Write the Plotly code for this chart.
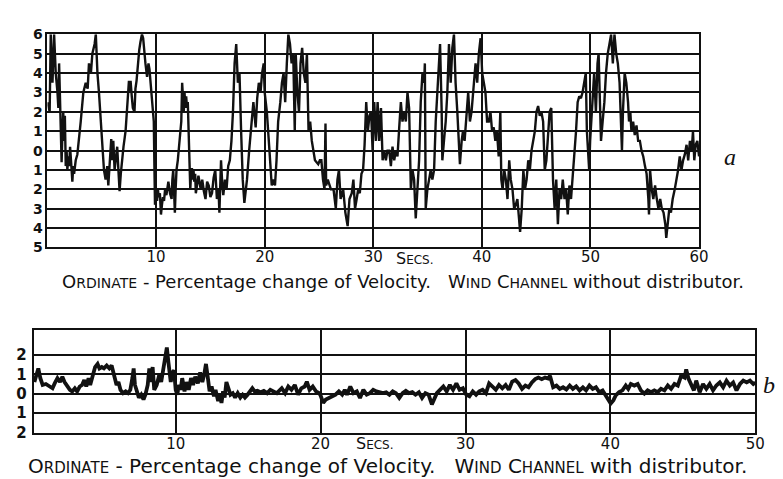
import plotly.graph_objects as go

# ---------- Panel a : wind channel without distributor (0-60 s) ----------
t_a = [0.0, 0.2, 0.3, 0.46, 0.61, 0.76, 0.92, 1.0, 1.07, 1.15, 1.22, 1.3, 1.38, 1.45, 1.53, 1.6, 1.68, 1.76, 1.83, 1.92,
       2.0, 2.08, 2.2, 2.29, 2.37, 2.45, 2.6, 2.75, 3.06, 3.3, 3.52, 3.7, 3.82, 4.0, 4.13, 4.34, 4.45, 4.52, 4.6, 4.74,
       4.89, 5.05, 5.2, 5.35, 5.5, 5.6, 5.66, 5.78, 5.87, 5.95, 6.06, 6.18, 6.3, 6.42, 6.53, 6.64, 6.75, 6.88, 7.0, 7.19,
       7.3, 7.4, 7.5, 7.6, 7.65, 7.76, 7.86, 8.01, 8.1, 8.2, 8.32, 8.45, 8.56, 8.7, 8.81, 8.92, 9.02, 9.17, 9.3, 9.39,
       9.54, 9.62, 9.7, 9.79, 9.85, 9.9, 10.0, 10.09, 10.17, 10.24, 10.35, 10.45, 10.54, 10.63, 10.73, 10.83, 10.95, 11.13, 11.28, 11.43,
       11.5, 11.58, 11.65, 11.73, 11.8, 11.88, 12.0, 12.17, 12.32, 12.4, 12.47, 12.55, 12.62, 12.7, 12.77, 12.85, 12.92, 13.0, 13.07, 13.15,
       13.22, 13.3, 13.37, 13.45, 13.51, 13.6, 13.66, 13.8, 13.9, 14.11, 14.25, 14.4, 14.55, 14.7, 14.85, 15.0, 15.15, 15.3, 15.45, 15.6,
       15.75, 15.83, 15.9, 15.98, 16.1, 16.19, 16.34, 16.49, 16.64, 16.79, 16.94, 17.08, 17.23, 17.38, 17.53, 17.68, 17.83, 17.98, 18.13, 18.37,
       18.57, 18.78, 18.96, 19.17, 19.31, 19.46, 19.62, 19.76, 19.91, 20.0, 20.2, 20.44, 20.65, 20.8, 20.95, 21.09, 21.24, 21.44, 21.59, 21.74,
       21.89, 22.04, 22.18, 22.33, 22.48, 22.63, 22.77, 22.86, 23.01, 23.16, 23.3, 23.45, 23.6, 23.75, 23.89, 24.04, 24.19, 24.34, 24.49, 24.63,
       24.78, 24.93, 25.08, 25.22, 25.37, 25.51, 25.6, 25.66, 25.81, 25.96, 26.1, 26.34, 26.55, 26.7, 26.84, 26.99, 27.23, 27.43, 27.64, 27.81,
       28.02, 28.17, 28.32, 28.47, 28.61, 28.76, 28.91, 29.06, 29.2, 29.35, 29.5, 29.65, 29.8, 29.94, 30.09, 30.25, 30.4, 30.55, 30.71, 30.86,
       31.01, 31.16, 31.31, 31.47, 31.62, 31.77, 31.93, 32.08, 32.23, 32.39, 32.54, 32.69, 32.84, 33.0, 33.15, 33.3, 33.46, 33.61, 33.76, 33.91,
       34.07, 34.22, 34.37, 34.53, 34.68, 34.75, 34.83, 34.98, 35.14, 35.29, 35.44, 35.6, 35.75, 35.9, 36.06, 36.15, 36.3, 36.36, 36.51, 36.67,
       36.82, 36.97, 37.13, 37.28, 37.43, 37.58, 37.74, 37.89, 37.98, 38.14, 38.26, 38.41, 38.56, 38.74, 38.9, 39.05, 39.27, 39.42, 39.57, 39.72,
       39.88, 40.03, 40.18, 40.33, 40.48, 40.64, 40.79, 40.94, 41.09, 41.24, 41.39, 41.55, 41.7, 41.79, 41.91, 42.06, 42.21, 42.36, 42.52, 42.66,
       42.82, 42.97, 43.12, 43.27, 43.42, 43.52, 43.67, 43.82, 43.97, 44.12, 44.27, 44.42, 44.57, 44.73, 44.88, 45.03, 45.18, 45.33, 45.48, 45.64,
       45.79, 45.94, 46.09, 46.24, 46.39, 46.55, 46.7, 46.85, 47.0, 47.15, 47.3, 47.45, 47.61, 47.76, 47.91, 48.06, 48.21, 48.36, 48.5, 48.67,
       48.82, 48.97, 49.12, 49.27, 49.42, 49.57, 49.67, 49.79, 49.88, 49.97, 50.09, 50.22, 50.34, 50.5, 50.65, 50.75, 50.87, 50.97, 51.12, 51.28,
       51.43, 51.59, 51.75, 51.9, 52.06, 52.21, 52.37, 52.52, 52.68, 52.77, 52.9, 52.99, 53.15, 53.3, 53.46, 53.55, 53.67, 53.77, 53.93, 54.08,
       54.24, 54.39, 54.55, 54.7, 54.86, 55.02, 55.17, 55.33, 55.39, 55.49, 55.64, 55.79, 55.95, 56.11, 56.26, 56.42, 56.57, 56.73, 56.89, 56.98,
       57.1, 57.26, 57.41, 57.57, 57.76, 57.92, 58.07, 58.22, 58.38, 58.53, 58.69, 58.85, 59.0, 59.16, 59.32, 59.44, 59.56, 59.69, 59.84, 60.0]
v_a = [2.5, 2.0, 6.0, 3.5, 6.0, 4.0, 3.0, 2.2, 4.5, 3.0, 1.5, -0.6, 1.0, 2.0, 0.5, 1.8, -0.8, 0.0, -1.0, -0.3,
       -0.8, 0.2, -0.8, -1.6, -0.8, -1.2, -0.5, -0.2, 1.5, 3.0, 3.5, 3.2, 4.5, 4.0, 5.0, 5.5, 6.0, 5.0, 4.0, 3.0,
       1.5, 0.0, -1.0, -1.5, -0.8, -1.8, -1.2, -0.5, 0.6, -0.5, 0.5, -1.0, -0.2, 0.2, -1.0, -2.1, -1.2, -0.4, 0.2, 1.0,
       2.0, 2.8, 3.6, 3.0, 3.6, 2.8, 2.2, 2.0, 3.2, 3.6, 4.5, 5.2, 5.6, 6.0, 5.8, 5.0, 4.5, 3.8, 4.5, 4.2,
       3.0, 2.4, 2.0, 1.5, -1.0, -2.8, -2.2, -2.6, -2.0, -2.4, -2.2, -3.3, -2.8, -2.4, -2.6, -2.0, -2.3, -1.6, -2.2, -2.5,
       -1.5, -1.0, -2.0, -3.2, -2.0, -1.0, -0.5, 0.5, 1.5, 3.5, 2.8, 2.0, 3.0, 2.2, 2.8, 2.2, 2.5, 1.0, -1.0, -2.0,
       -1.2, -0.9, -1.5, -1.0, -1.6, -1.2, -2.2, -1.5, -1.3, -2.0, -1.5, -2.1, -2.5, -1.6, -1.8, -2.4, -2.2, -1.4, -1.0, -2.5,
       -2.0, -3.2, -1.5, -0.5, -1.8, -2.3, -1.5, -2.0, -0.8, -0.5, 0.5, 2.0, 4.5, 5.5, 3.5, 4.0, 1.0, -1.5, -2.7, -1.5,
       0.0, 1.5, 2.5, 1.2, 2.7, 3.5, 3.0, 4.0, 4.5, 3.0, 2.0, 0.0, -1.8, -1.5, -1.8, -0.5, 1.5, 2.5, 3.5, 4.0,
       2.5, 4.5, 6.0, 5.5, 4.5, 5.0, 1.0, 5.0, 3.0, 2.0, 4.5, 5.3, 4.0, 3.5, 5.0, 1.0, 1.5, 0.5, 0.0, -0.5,
       -0.6, -0.7, -0.5, -0.5, -1.5, -2.0, 1.4, -1.8, -1.5, -1.8, -2.0, -2.0, -3.0, -1.5, -1.0, -2.5, -2.0, -3.2, -3.9, -2.5,
       -2.2, -1.5, -3.0, -2.5, -2.0, -2.2, -1.2, -1.0, 0.3, 2.5, 1.0, 1.8, 2.0, 0.0, 2.5, 0.5, 2.5, 0.5, 2.2, -0.5,
       0.0, -0.5, 0.0, 0.0, -0.8, 0.2, -0.5, 0.0, -0.3, 1.2, 2.5, 1.5, 2.0, 1.5, 3.0, 2.2, -2.0, -1.0, -1.5, -3.5,
       -2.0, -0.5, 2.5, 4.0, 3.5, 4.5, -3.0, -2.0, -1.5, -1.0, -1.5, -1.0, 1.5, 3.0, 5.0, 5.5, 2.0, -0.5, 0.5, 1.5,
       3.0, 5.5, 3.5, 5.3, 6.0, 3.5, 2.0, 0.0, -0.7, 0.5, 1.0, 0.5, 1.5, 3.0, 1.5, 2.0, 3.5, 4.5, 3.5, 5.0,
       5.8, 4.0, 3.5, 3.0, 1.5, 1.5, 2.0, 1.0, 1.2, 0.5, 1.0, -0.3, 2.0, -1.5, -2.0, -1.0, -1.5, -2.5, -0.5, -1.5,
       -2.0, -3.0, -2.8, -2.5, -3.5, -4.2, -3.0, -1.0, -2.0, -1.5, -0.5, -1.0, 0.0, 0.5, 1.0, 2.0, 2.3, 1.8, 2.0, 1.5,
       -1.0, -0.5, 1.0, 2.0, 2.2, -1.5, -3.0, -1.5, -3.8, -2.0, -2.5, -1.5, -2.5, -2.0, -3.3, -1.8, -2.5, -1.5, -0.5, 1.0,
       2.5, 2.8, 2.7, 3.0, 3.5, 4.0, 1.0, -0.5, -1.0, 0.5, 1.5, 2.5, 4.0, 2.0, 4.5, 5.0, 2.0, 0.5, 1.5, 2.5,
       4.0, 5.0, 5.5, 6.0, 4.5, 6.0, 5.0, 4.5, 3.5, 2.0, 0.0, 2.0, 4.0, 3.5, 2.5, 1.5, 2.0, 1.0, 1.5, 0.8,
       1.3, 0.5, 0.5, 0.0, -0.3, -0.8, -1.2, -2.5, -3.3, -1.0, -2.0, -2.5, -1.8, -2.5, -3.0, -2.5, -3.0, -3.2, -3.8, -4.5,
       -3.8, -3.0, -3.2, -2.5, -2.0, -1.5, -1.0, -0.3, -1.0, -0.5, -0.2, 0.3, -0.5, 0.5, 0.0, 1.0, -0.5, 0.3, 0.5, -0.3]

# ---------- Panel b : wind channel with distributor (0-50 s) ----------
t_b = [0.25, 0.36, 0.52, 0.66, 0.82, 1.04, 1.27, 1.5, 1.65, 1.84, 2.02, 2.18, 2.33, 2.52, 2.7, 2.86, 3.04, 3.2, 3.38, 3.54,
       3.69, 3.83, 3.99, 4.1, 4.29, 4.44, 4.61, 4.74, 4.9, 5.05, 5.24, 5.42, 5.58, 5.73, 5.92, 6.05, 6.19, 6.37, 6.55, 6.71,
       6.87, 7.01, 7.1, 7.19, 7.33, 7.46, 7.62, 7.78, 7.91, 8.07, 8.18, 8.3, 8.41, 8.52, 8.69, 8.86, 9.0, 9.14, 9.27, 9.39,
       9.5, 9.66, 9.78, 9.89, 10.0, 10.11, 10.22, 10.34, 10.45, 10.61, 10.74, 10.9, 11.06, 11.2, 11.35, 11.53, 11.69, 11.84, 11.98, 12.09,
       12.21, 12.34, 12.48, 12.64, 12.75, 12.93, 13.04, 13.16, 13.27, 13.38, 13.5, 13.6, 13.78, 13.94, 14.1, 14.28, 14.46, 14.62, 14.78, 14.96,
       15.14, 15.29, 15.45, 15.64, 15.86, 16.08, 16.31, 16.53, 16.98, 17.32, 17.55, 17.77, 17.99, 18.22, 18.45, 18.67, 18.9, 19.05, 19.24, 19.46,
       19.68, 19.91, 20.02, 20.18, 20.36, 20.59, 20.81, 21.03, 21.26, 21.49, 21.67, 21.82, 22.05, 22.27, 22.5, 22.72, 22.95, 23.18, 23.4, 23.63,
       23.85, 24.07, 24.3, 24.53, 24.75, 24.98, 25.2, 25.43, 25.66, 25.88, 26.1, 26.33, 26.55, 26.78, 27.0, 27.23, 27.45, 27.68, 27.84, 28.02,
       28.24, 28.47, 28.7, 28.92, 29.14, 29.37, 29.59, 29.82, 30.05, 30.27, 30.5, 30.73, 30.95, 31.18, 31.41, 31.63, 31.86, 32.09, 32.31, 32.54,
       32.77, 32.99, 33.22, 33.45, 33.67, 33.9, 34.13, 34.35, 34.58, 34.81, 35.03, 35.26, 35.49, 35.71, 35.83, 35.94, 36.05, 36.28, 36.51, 36.73,
       36.96, 37.19, 37.41, 37.64, 37.87, 38.1, 38.32, 38.55, 38.78, 39.0, 39.23, 39.46, 39.69, 39.85, 40.02, 40.21, 40.37, 40.6, 40.83, 41.06,
       41.23, 41.41, 41.65, 41.88, 42.1, 42.34, 42.57, 42.8, 43.03, 43.26, 43.49, 43.73, 43.96, 44.19, 44.42, 44.65, 44.88, 45.12, 45.23, 45.4,
       45.58, 45.76, 45.92, 46.16, 46.39, 46.62, 46.85, 47.08, 47.31, 47.55, 47.78, 48.01, 48.24, 48.47, 48.7, 48.94, 49.17, 49.4, 49.63, 49.86,
       50.0]
v_b = [0.6, 0.95, 1.3, 0.8, 0.45, 0.5, 0.37, 0.28, 0.53, 0.8, 0.6, 0.87, 0.6, 0.37, 0.2, 0.12, 0.28, 0.12, 0.37, 0.45,
       0.7, 0.37, 0.8, 0.45, 0.95, 1.37, 1.53, 1.3, 1.37, 1.3, 1.45, 1.3, 1.45, 0.95, 0.45, 0.6, 0.2, 0.03, 0.12, 0.03,
       0.2, 0.8, 1.3, 0.45, 0.03, -0.2, -0.05, -0.3, -0.05, 0.45, 1.3, 0.6, 1.37, 0.2, 0.45, 0.95, 0.6, 1.3, 1.78, 2.37,
       1.6, 0.6, 1.1, 1.2, 0.2, -0.05, 0.45, 0.2, 0.8, 0.12, 0.6, 0.2, 0.8, 0.45, 0.87, 0.53, 1.1, 0.6, 1.03, 1.53,
       0.87, 0.12, 0.37, -0.13, 0.2, -0.38, -0.05, -0.47, 0.12, -0.2, 0.6, 0.37, -0.05, 0.03, -0.2, 0.03, -0.2, -0.05, -0.2, -0.05,
       0.12, 0.28, 0.12, 0.15, 0.08, 0.15, 0.03, 0.2, 0.03, 0.28, 0.03, 0.37, 0.2, 0.45, -0.05, 0.28, 0.37, 0.62, 0.2, 0.37,
       0.12, 0.03, -0.13, -0.47, -0.3, -0.22, -0.13, -0.05, 0.12, -0.05, 0.2, -0.05, 0.37, 0.03, 0.12, -0.22, 0.2, -0.05, 0.03, 0.2,
       0.12, 0.07, 0.03, 0.07, -0.05, 0.12, 0.03, -0.22, 0.03, 0.15, 0.03, 0.08, -0.05, 0.07, -0.22, 0.03, -0.05, -0.55, -0.22, 0.03,
       0.2, 0.37, 0.12, 0.45, 0.2, 0.53, 0.2, 0.28, -0.05, -0.13, 0.12, -0.05, 0.12, 0.2, 0.03, 0.53, 0.37, 0.2, 0.45, 0.28,
       0.45, 0.2, 0.62, 0.7, 0.53, 0.25, 0.42, 0.33, 0.58, 0.75, 0.83, 0.75, 0.83, 0.78, 0.92, 0.5, 0.33, 0.42, 0.25, 0.33,
       0.22, 0.42, 0.25, 0.38, 0.17, 0.33, 0.17, 0.42, 0.25, 0.33, 0.08, 0.17, -0.08, -0.25, -0.5, -0.33, -0.08, 0.08, 0.17, 0.42,
       0.25, 0.5, 0.42, 0.5, 0.17, 0.0, 0.17, 0.08, 0.17, 0.08, 0.25, 0.17, 0.42, 0.25, 0.5, 0.42, 0.92, 0.83, 1.25, 0.75,
       0.42, 0.17, 0.67, 0.08, 0.5, 0.25, 0.5, 0.17, 0.42, 0.58, 0.33, 0.67, 0.42, 0.58, 0.17, 0.5, 0.67, 0.58, 0.67, 0.5,
       0.58]

# tick labels
xticks_a = [10, 20, 30, 40, 50, 60]
yticks_a = [6, 5, 4, 3, 2, 1, 0, -1, -2, -3, -4, -5]
ylabels_a = ["6", "5", "4", "3", "2", "1", "0", "1", "2", "3", "4", "5"]
xticks_b = [10, 20, 30, 40, 50]
yticks_b = [2, 1, 0, -1, -2]
ylabels_b = ["2", "1", "0", "1", "2"]

W, H = 783, 479
INK = "#111111"
FONT = "DejaVu Sans"


def px_x(p):
    return p / W


def px_y(p):
    return 1 - p / H


fig = go.Figure()
fig.add_trace(go.Scatter(x=t_a, y=v_a, xaxis="x", yaxis="y", mode="lines",
                         line=dict(color=INK, width=2.4), showlegend=False, hoverinfo="skip"))
fig.add_trace(go.Scatter(x=t_b, y=v_b, xaxis="x2", yaxis="y2", mode="lines",
                         line=dict(color=INK, width=3.8), showlegend=False, hoverinfo="skip"))

common_axis = dict(showline=True, mirror=True, linecolor=INK, linewidth=2,
                   showgrid=True, gridcolor=INK, gridwidth=1.8, zeroline=False,
                   ticks="", fixedrange=True)

fig.update_layout(
    width=W, height=H,
    margin=dict(l=0, r=0, t=0, b=0),
    paper_bgcolor="white", plot_bgcolor="white",
    xaxis=dict(common_axis, domain=[px_x(40), px_x(700)], range=[0, 60], anchor="y",
               tickvals=xticks_a, ticktext=[str(v) for v in xticks_a],
               tickfont=dict(family=FONT, size=15, color=INK), ticklabelstandoff=-5),
    yaxis=dict(common_axis, domain=[px_y(240), px_y(19)], range=[-5, 6], anchor="x",
               tickvals=yticks_a, ticktext=ylabels_a,
               tickfont=dict(family=FONT, size=14, color=INK, weight="bold"), ticklabelstandoff=0),
    xaxis2=dict(common_axis, domain=[px_x(26), px_x(757)], range=[0.2, 50], anchor="y2",
                tickvals=xticks_b, ticktext=[str(v) for v in xticks_b],
                tickfont=dict(family=FONT, size=15, color=INK), ticklabelstandoff=-4),
    yaxis2=dict(common_axis, domain=[px_y(432), px_y(326)], range=[-2, 3.25], anchor="x2",
                tickvals=yticks_b, ticktext=ylabels_b,
                tickfont=dict(family=FONT, size=15, color=INK, weight="bold"), ticklabelstandoff=2),
)

sc_a = "font-size:14px"
sc_b = "font-size:15px"
cap_a = (f"O<span style='{sc_a}'>RDINATE</span> - Percentage change of Velocity.&nbsp;&nbsp; "
         f"W<span style='{sc_a}'>IND</span> C<span style='{sc_a}'>HANNEL</span> without distributor.")
cap_b = (f"O<span style='{sc_b}'>RDINATE</span> - Percentage change of Velocity.&nbsp;&nbsp; "
         f"W<span style='{sc_b}'>IND</span> C<span style='{sc_b}'>HANNEL</span> with distributor.")
secs = "S<span style='font-size:12px'>ECS.</span>"

annotations = [
    dict(text=cap_a, x=px_x(400), y=px_y(275), xref="paper", yref="paper", showarrow=False,
         xanchor="center", yanchor="middle", font=dict(family=FONT, size=18, color=INK)),
    dict(text=cap_b, x=px_x(384), y=px_y(467), xref="paper", yref="paper", showarrow=False,
         xanchor="center", yanchor="middle", font=dict(family=FONT, size=20, color=INK)),
    dict(text=secs, x=px_x(391), y=px_y(251), xref="paper", yref="paper", showarrow=False,
         xanchor="left", yanchor="middle", font=dict(family=FONT, size=16, color=INK)),
    dict(text=secs, x=px_x(350), y=px_y(443), xref="paper", yref="paper", showarrow=False,
         xanchor="left", yanchor="middle", font=dict(family=FONT, size=16, color=INK)),
    dict(text="<i>a</i>", x=px_x(731), y=px_y(146), xref="paper", yref="paper", showarrow=False,
         xanchor="center", yanchor="middle", font=dict(family="Liberation Serif", size=24, color=INK)),
    dict(text="<i>b</i>", x=px_x(771), y=px_y(383), xref="paper", yref="paper", showarrow=False,
         xanchor="center", yanchor="middle", font=dict(family="Liberation Serif", size=24, color=INK)),
]
fig.update_layout(annotations=annotations)

fig.write_html("out.html")
